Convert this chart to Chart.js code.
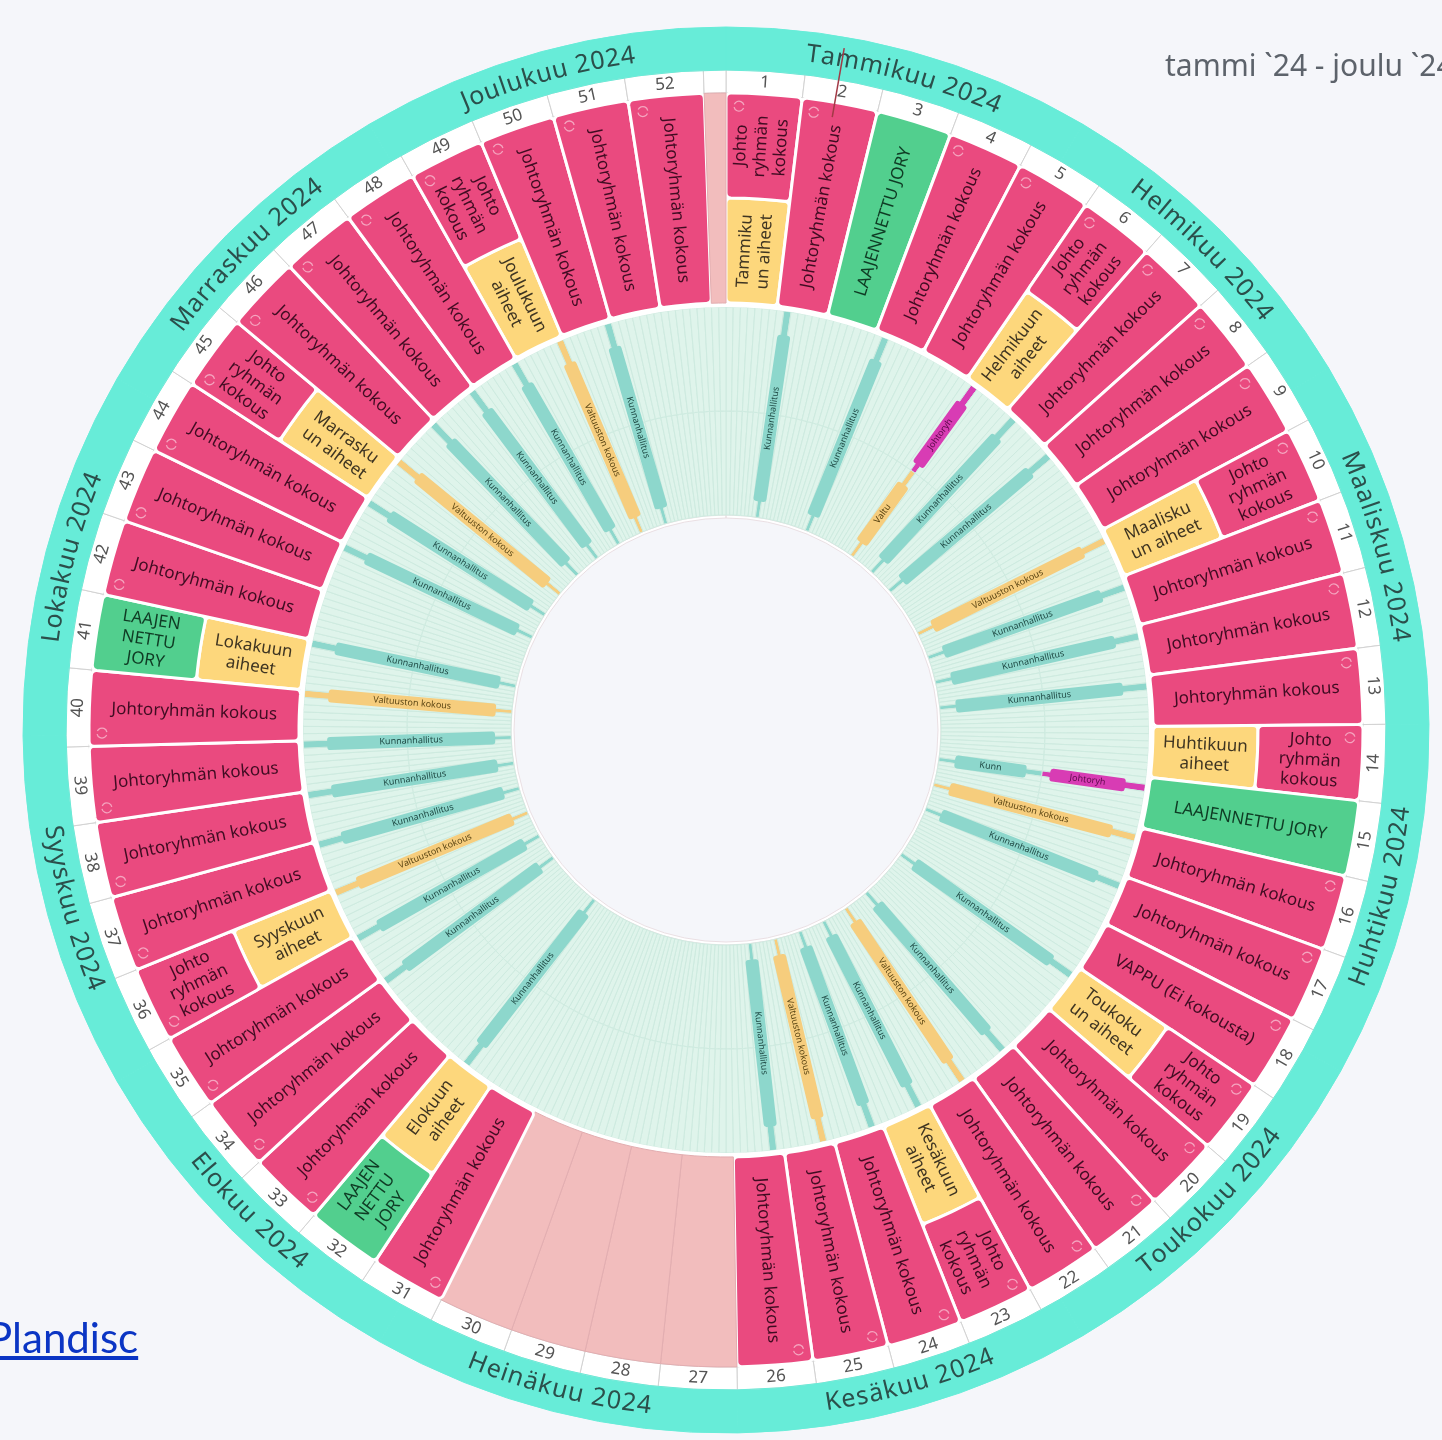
<!DOCTYPE html>
<html lang="fi">
<head>
<meta charset="utf-8">
<title>Vuosikello 2024</title>
<script src="https://cdn.jsdelivr.net/npm/chart.js@4.4.1/dist/chart.umd.min.js"></script>
<style>
    html, body { margin: 0; padding: 0; }
    body {
        width: 1442px;
        height: 1440px;
        overflow: hidden;
        position: relative;
        background: #f5f6fa;
        font-family: "Noto Sans", sans-serif;
    }
    #wrap { position: absolute; left: 5px; top: 10px; width: 1442px; height: 1440px; }
    .range {
        position: absolute;
        left: 1165px;
        top: 44px;
        font-size: 30px;
        color: #5d636b;
        white-space: nowrap;
    }
    .brand {
        position: absolute;
        left: -13px;
        top: 1312px;
        font: 42px Lato, sans-serif;
        color: #0b35c4;
        text-decoration: underline;
    }
</style>
</head>
<body>
<div id="wrap"><canvas id="disc" width="1442" height="1440"></canvas></div>
<div class="range">tammi `24 - joulu `24</div>
<a class="brand" href="#">Plandisc</a>

<script>
// Kuukaudet
const monthNames = ['Tammikuu 2024', 'Helmikuu 2024', 'Maaliskuu 2024', 'Huhtikuu 2024',
    'Toukokuu 2024', 'Kesäkuu 2024', 'Heinäkuu 2024', 'Elokuu 2024',
    'Syyskuu 2024', 'Lokakuu 2024', 'Marraskuu 2024', 'Joulukuu 2024'];
const monthDays = [31, 29, 31, 30, 31, 30, 31, 31, 30, 31, 30, 31];

// Viikot (viimeinen pala = 30.-31.12.)
const weekNumbers = ['1', '2', '3', '4', '5', '6', '7', '8', '9', '10', '11', '12', '13',
    '14', '15', '16', '17', '18', '19', '20', '21', '22', '23', '24', '25', '26',
    '27', '28', '29', '30', '31', '32', '33', '34', '35', '36', '37', '38', '39',
    '40', '41', '42', '43', '44', '45', '46', '47', '48', '49', '50', '51', '52', ''];
const weekDays = [7, 7, 7, 7, 7, 7, 7, 7, 7, 7, 7, 7, 7, 7, 7, 7, 7, 7, 7, 7, 7, 7, 7, 7, 7, 7,
    7, 7, 7, 7, 7, 7, 7, 7, 7, 7, 7, 7, 7, 7, 7, 7, 7, 7, 7, 7, 7, 7, 7, 7, 7, 7, 2];

// Viikkotapahtumat (ulompi kehä)
const JK = 'Johtoryhmän kokous';
const JRK = 'Johto\nryhmän\nkokous';
const LJ = 'LAAJENNETTU JORY';
const LJ3 = 'LAAJEN\nNETTU\nJORY';
const weekEvents = [
    JRK, JK, LJ, JK, JK, JRK, JK, JK, JK, JRK, JK, JK, JK,
    JRK, LJ, JK, JK, 'VAPPU (Ei kokousta)', JRK, JK, JK, JK, JRK, JK, JK, JK,
    '', '', '', '', JK, LJ3, JK, JK, JK, JRK, JK, JK, JK,
    JK, LJ3, JK, JK, JK, JRK, JK, JK, JK, JRK, JK, JK, JK, ''];
const weekKinds = [
    'jory', 'jory', 'laaj', 'jory', 'jory', 'jory', 'jory', 'jory', 'jory', 'jory', 'jory', 'jory', 'jory',
    'jory', 'laaj', 'jory', 'jory', 'jory', 'jory', 'jory', 'jory', 'jory', 'jory', 'jory', 'jory', 'jory',
    'loma', 'loma', 'loma', 'loma', 'jory', 'laaj', 'jory', 'jory', 'jory', 'jory', 'jory', 'jory', 'jory',
    'jory', 'laaj', 'jory', 'jory', 'jory', 'jory', 'jory', 'jory', 'jory', 'jory', 'jory', 'jory', 'jory', 'loma'];

// Kuukauden aiheet (sisempi puolikas)
const topicWeeks = [1, 6, 10, 14, 19, 23, 32, 36, 41, 45, 49];
const topicLabels = ['Tammiku\nun aiheet', 'Helmikuun\naiheet', 'Maalisku\nun aiheet', 'Huhtikuun\naiheet',
    'Toukoku\nun aiheet', 'Kesäkuun\naiheet', 'Elokuun\naiheet', 'Syyskuun\naiheet',
    'Lokakuun\naiheet', 'Marrasku\nun aiheet', 'Joulukuun\naiheet'];

// Kokoukset sisäkehällä (päivän indeksi 0 = 1.1.)
const boardDays = [8, 22, 36, 36, 43, 50, 64, 71, 78, 85, 99, 99, 106, 113, 127, 141, 148, 155, 162, 169, 176,
    221, 237, 244, 251, 258, 265, 272, 279, 286, 300, 307, 314, 321, 328, 335, 342, 349];
const boardLabels = ['Kunnanhallitus', 'Kunnanhallitus', 'Valtu', 'Johtoryh', 'Kunnanhallitus', 'Kunnanhallitus',
    'Valtuuston kokous', 'Kunnanhallitus', 'Kunnanhallitus', 'Kunnanhallitus', 'Kunn', 'Johtoryh',
    'Valtuuston kokous', 'Kunnanhallitus', 'Kunnanhallitus', 'Kunnanhallitus', 'Valtuuston kokous',
    'Kunnanhallitus', 'Kunnanhallitus', 'Valtuuston kokous', 'Kunnanhallitus',
    'Kunnanhallitus', 'Kunnanhallitus', 'Kunnanhallitus', 'Valtuuston kokous', 'Kunnanhallitus',
    'Kunnanhallitus', 'Kunnanhallitus', 'Valtuuston kokous', 'Kunnanhallitus', 'Kunnanhallitus',
    'Kunnanhallitus', 'Valtuuston kokous', 'Kunnanhallitus', 'Kunnanhallitus', 'Kunnanhallitus',
    'Valtuuston kokous', 'Kunnanhallitus'];
const boardKinds = ['kh', 'kh', 'valt', 'jory', 'kh', 'kh', 'valt', 'kh', 'kh', 'kh', 'kh', 'jory',
    'valt', 'kh', 'kh', 'kh', 'valt', 'kh', 'kh', 'valt', 'kh',
    'kh', 'kh', 'kh', 'valt', 'kh', 'kh', 'kh', 'valt', 'kh', 'kh', 'kh', 'valt', 'kh', 'kh', 'kh', 'valt', 'kh'];
const boardSlots = ['full', 'full', 'in', 'out', 'full', 'full', 'full', 'full', 'full', 'full', 'in', 'out',
    'full', 'full', 'full', 'full', 'full', 'full', 'full', 'full', 'full',
    'full', 'full', 'full', 'full', 'full', 'full', 'full', 'full', 'full', 'full', 'full', 'full',
    'full', 'full', 'full', 'full', 'full'];

const todayIndex = 10;
const daysInYear = 366;

// Värit
const cellColors = { jory: '#ea4a7f', laaj: '#52cf8e', aiheet: '#fdd77c', loma: '#f2bdbd' };
const cellText = { jory: '#400c22', laaj: '#0f3b24', aiheet: '#3f3522', loma: '#400c22' };
const barColors = { kh: '#8dd7cc', valt: '#f6cd7d', jory: '#d83cb4' };
const barText = { kh: '#1f4a45', valt: '#5b4513', jory: '#5c0a4a' };
const ringBg = '#dff4eb';
const ringLine = '#cdeadf';

// Sisempi puolikas viikoittain
const innerText = weekNumbers.map(() => '');
const innerKinds = weekNumbers.map(() => '');
topicWeeks.forEach((w, k) => {
    innerText[w - 1] = topicLabels[k];
    innerKinds[w - 1] = 'aiheet';
});

// Päiväkohtaiset värit sisäkehälle
const dayUnits = Array.from({ length: daysInYear }, () => 1);
const outerHalfColors = dayUnits.map(() => ringBg);
const innerHalfColors = dayUnits.map(() => ringBg);
boardDays.forEach((d, k) => {
    const c = barColors[boardKinds[k]];
    if (boardSlots[k] !== 'in') outerHalfColors[d] = c;
    if (boardSlots[k] !== 'out') innerHalfColors[d] = c;
});

function drawArcText(ctx, text, cx, cy, r, mid, font, color, spacing) {
    ctx.font = font;
    ctx.fillStyle = color;
    const flip = Math.sin(mid) > 0;
    const dir = flip ? -1 : 1;
    const chars = Array.from(text);
    const widths = chars.map(ch => ctx.measureText(ch).width + spacing);
    const total = widths.reduce((a, b) => a + b, 0) - spacing;
    let ang = mid - dir * total / (2 * r);
    chars.forEach((ch, i) => {
        const a = ang + dir * (widths[i] - spacing) / (2 * r);
        ctx.save();
        ctx.translate(cx + r * Math.cos(a), cy + r * Math.sin(a));
        ctx.rotate(flip ? a - Math.PI / 2 : a + Math.PI / 2);
        ctx.fillText(ch, 0, 0);
        ctx.restore();
        ang += dir * widths[i] / r;
    });
}

function drawTangentText(ctx, text, cx, cy, r, a) {
    const flip = Math.sin(a) > 0;
    ctx.save();
    ctx.translate(cx + r * Math.cos(a), cy + r * Math.sin(a));
    ctx.rotate(flip ? a - Math.PI / 2 : a + Math.PI / 2);
    ctx.fillText(text, 0, 0);
    ctx.restore();
}

function drawRadialText(ctx, text, cx, cy, r, a, lineH) {
    const lines = text.split('\n');
    ctx.save();
    ctx.translate(cx + r * Math.cos(a), cy + r * Math.sin(a));
    ctx.rotate(Math.cos(a) >= 0 ? a : a + Math.PI);
    lines.forEach((ln, k) => ctx.fillText(ln, 0, (k - (lines.length - 1) / 2) * lineH));
    ctx.restore();
}

function drawRepeatIcon(ctx, x, y) {
    ctx.save();
    ctx.strokeStyle = 'rgba(255, 255, 255, 0.5)';
    ctx.lineWidth = 1.3;
    ctx.beginPath();
    ctx.arc(x, y, 5, 0.4, Math.PI - 0.2);
    ctx.stroke();
    ctx.beginPath();
    ctx.arc(x, y, 5, Math.PI + 0.4, 2 * Math.PI - 0.2);
    ctx.stroke();
    ctx.restore();
}

function arcProps(arc) {
    return arc.getProps(['x', 'y', 'startAngle', 'endAngle', 'innerRadius', 'outerRadius'], true);
}

const discLabels = {
    id: 'discLabels',
    beforeDatasetsDraw(chart) {
        // koko solun levyiset tapahtumat venytetään molempien puolikkaiden yli
        const outer = chart.getDatasetMeta(2).data;
        const inner = chart.getDatasetMeta(3).data;
        outer.forEach((arc, i) => {
            if (!innerKinds[i]) arc.innerRadius = inner[i].innerRadius;
        });
    },
    afterDatasetsDraw(chart) {
        const ctx = chart.ctx;
        ctx.save();
        ctx.textAlign = 'center';
        ctx.textBaseline = 'middle';

        // kuukaudet
        chart.getDatasetMeta(0).data.forEach((arc, i) => {
            const p = arcProps(arc);
            drawArcText(ctx, monthNames[i], p.x, p.y, (p.innerRadius + p.outerRadius) / 2 - 1,
                (p.startAngle + p.endAngle) / 2, '25px "Noto Sans"', '#2b4f4b', 1);
        });

        // viikkonumerot
        ctx.font = '17px "Noto Sans"';
        ctx.fillStyle = '#545454';
        chart.getDatasetMeta(1).data.forEach((arc, i) => {
            const p = arcProps(arc);
            drawTangentText(ctx, weekNumbers[i], p.x, p.y, (p.innerRadius + p.outerRadius) / 2,
                (p.startAngle + p.endAngle) / 2);
        });

        // tapahtumat
        ctx.font = '17px "Noto Sans"';
        const outerArcs = chart.getDatasetMeta(2).data;
        const innerArcs = chart.getDatasetMeta(3).data;
        outerArcs.forEach((arc, i) => {
            const p = arcProps(arc);
            const mid = (p.startAngle + p.endAngle) / 2;
            if (weekEvents[i]) {
                ctx.fillStyle = cellText[weekKinds[i]];
                drawRadialText(ctx, weekEvents[i], p.x, p.y, (p.innerRadius + p.outerRadius) / 2, mid, 20);
            }
            if (weekKinds[i] === 'jory') {
                const r = p.outerRadius - 13;
                const a = p.startAngle + 13 / r;
                drawRepeatIcon(ctx, p.x + r * Math.cos(a), p.y + r * Math.sin(a));
            }
            if (innerText[i]) {
                const q = arcProps(innerArcs[i]);
                ctx.fillStyle = cellText[innerKinds[i]];
                drawRadialText(ctx, innerText[i], q.x, q.y, (q.innerRadius + q.outerRadius) / 2, mid, 20);
            }
        });

        // sisäkehän kokousten paksunnokset ja tekstit
        const outerHalf = chart.getDatasetMeta(5).data;
        const innerHalf = chart.getDatasetMeta(6).data;
        ctx.font = '9px "Noto Sans"';
        boardDays.forEach((d, k) => {
            const slot = boardSlots[k];
            const po = arcProps(outerHalf[d]);
            const pi = arcProps(innerHalf[d]);
            const a = (po.startAngle + po.endAngle) / 2;
            let r1, r2;
            if (slot === 'full') { r1 = pi.innerRadius + 16; r2 = po.outerRadius - 24; }
            else if (slot === 'out') { r1 = po.innerRadius + 8; r2 = po.outerRadius - 20; }
            else { r1 = pi.innerRadius + 16; r2 = pi.outerRadius - 16; }
            ctx.save();
            ctx.translate(po.x, po.y);
            ctx.rotate(a);
            ctx.fillStyle = barColors[boardKinds[k]];
            ctx.beginPath();
            ctx.roundRect(r1, -6.5, r2 - r1, 13, 3);
            ctx.fill();
            ctx.restore();
            ctx.fillStyle = barText[boardKinds[k]];
            drawRadialText(ctx, boardLabels[k], po.x, po.y, (r1 + r2) / 2, a, 10);
        });

        // tämä päivä
        const t = arcProps(outerHalf[todayIndex]);
        const ta = t.startAngle;
        ctx.strokeStyle = '#a23a46';
        ctx.lineWidth = 1.5;
        ctx.beginPath();
        ctx.moveTo(t.x + 622 * Math.cos(ta), t.y + 622 * Math.sin(ta));
        ctx.lineTo(t.x + 692 * Math.cos(ta), t.y + 692 * Math.sin(ta));
        ctx.stroke();

        ctx.restore();
    }
};

const ctx = document.getElementById('disc').getContext('2d');
const disc = new Chart(ctx, {
    type: 'doughnut',
    data: {
        labels: dayUnits.map((_, i) => 'd' + i),
        datasets: [
            {   // kuukaudet
                data: monthDays,
                backgroundColor: '#67ecd8',
                borderColor: '#67ecd8',
                borderWidth: 1,
                weight: 43
            },
            {   // viikot
                data: weekDays,
                backgroundColor: '#ffffff',
                borderColor: '#d2d2d2',
                borderWidth: 1,
                weight: 23,
                order: 10
            },
            {   // tapahtumat, ulompi
                data: weekDays,
                backgroundColor: weekKinds.map(k => cellColors[k]),
                borderColor: weekKinds.map(k => k === 'loma' ? '#e2adb0' : '#ffffff'),
                borderWidth: weekKinds.map(k => k === 'loma' ? 1 : 3),
                borderRadius: weekKinds.map(k => k === 'loma' ? 0 : 5),
                weight: 105
            },
            {   // tapahtumat, sisempi
                data: weekDays,
                backgroundColor: innerKinds.map(k => k ? cellColors[k] : 'rgba(0,0,0,0)'),
                borderColor: '#ffffff',
                borderWidth: innerKinds.map(k => k ? 3 : 0),
                borderRadius: 5,
                weight: 105
            },
            {   // valkoinen väli
                data: [daysInYear],
                backgroundColor: '#ffffff',
                borderWidth: 0,
                weight: 4
            },
            {   // sisäkehä, ulompi puolikas
                data: dayUnits,
                backgroundColor: outerHalfColors,
                borderColor: ringLine,
                borderWidth: 1,
                weight: 104
            },
            {   // sisäkehä, sisempi puolikas
                data: dayUnits,
                backgroundColor: innerHalfColors,
                borderColor: ringLine,
                borderWidth: 1,
                weight: 104
            },
            {   // keskiön reuna
                data: [daysInYear],
                backgroundColor: '#ffffff',
                borderColor: '#eadfe3',
                borderWidth: 1,
                weight: 3
            }
        ]
    },
    options: {
        responsive: false,
        animation: false,
        events: [],
        radius: 703,
        cutout: (212 / 703 * 100) + '%',
        layout: { padding: 0 },
        plugins: {
            legend: { display: false },
            tooltip: { enabled: false }
        }
    },
    plugins: [discLabels]
});
</script>
</body>
</html>
